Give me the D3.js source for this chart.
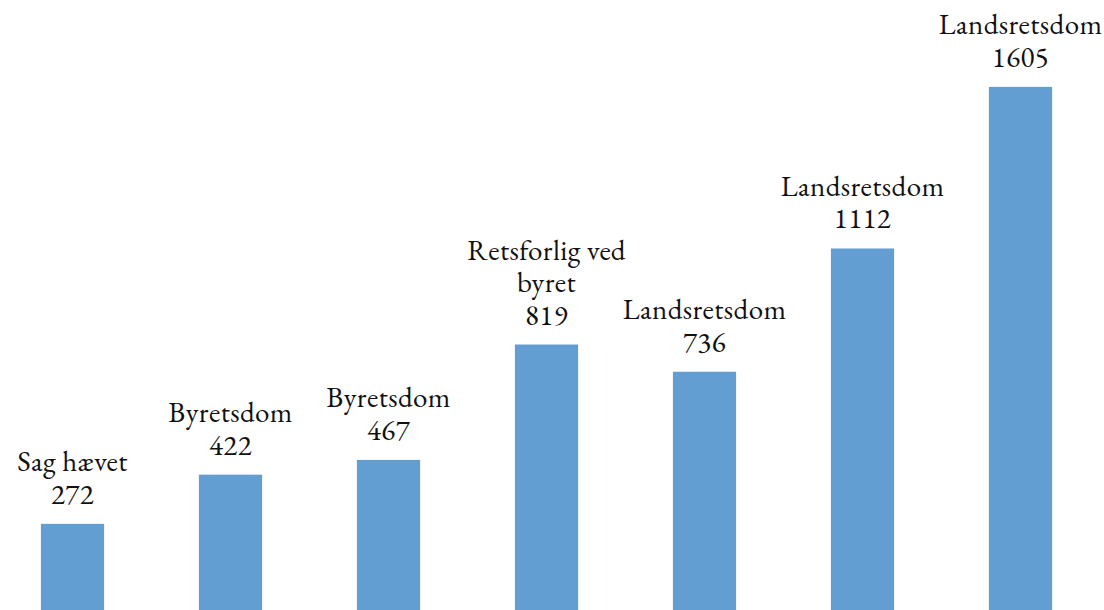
<!DOCTYPE html>
<html><head><meta charset="utf-8">
<script src="https://cdn.jsdelivr.net/npm/d3@7"></script>
<style>html,body{margin:0;padding:0;background:#fff;}svg{display:block;}</style>
</head><body>
<svg id="c" width="1104" height="610"></svg>
<script>
const categories = ["Sag hævet", "Byretsdom", "Byretsdom", "Retsforlig ved byret", "Landsretsdom", "Landsretsdom", "Landsretsdom"];
const labelLines = [["Sag hævet"], ["Byretsdom"], ["Byretsdom"], ["Retsforlig ved", "byret"], ["Landsretsdom"], ["Landsretsdom"], ["Landsretsdom"]];
const values = [272, 422, 467, 819, 736, 1112, 1605];

const svg = d3.select("#c");
const x = d3.scaleBand().domain(d3.range(values.length)).range([-6.5, 1099.5]).paddingInner(0.6).paddingOuter(0.3);
const y = d3.scaleLinear().domain([0, 1870]).range([613, 0]);

svg.selectAll("rect.bar").data(values).join("rect")
  .attr("class", "bar")
  .attr("x", (d, i) => x(i))
  .attr("width", x.bandwidth())
  .attr("y", d => y(d))
  .attr("height", d => y(0) - y(d))
  .attr("fill", "#629ED2");

const g = svg.selectAll("g.lbl").data(values).join("g").attr("class", "lbl")
  .attr("transform", (d, i) => `translate(${x(i) + x.bandwidth() / 2},${y(d) - 20})`);

g.each(function (d, i) {
  const lines = labelLines[i].concat([String(d)]);
  const n = lines.length;
  d3.select(this).selectAll("text").data(lines).join("text")
    .attr("text-anchor", "middle")
    .attr("y", (t, j) => -(n - 1 - j) * 32.5)
    .style("font-family", "'EB Garamond', 'Liberation Serif', serif")
    .style("font-size", "29px")
    .style("letter-spacing", "0.4px")
    .attr("fill", "#111")
    .text(t => t);
});
</script>
</body></html>
